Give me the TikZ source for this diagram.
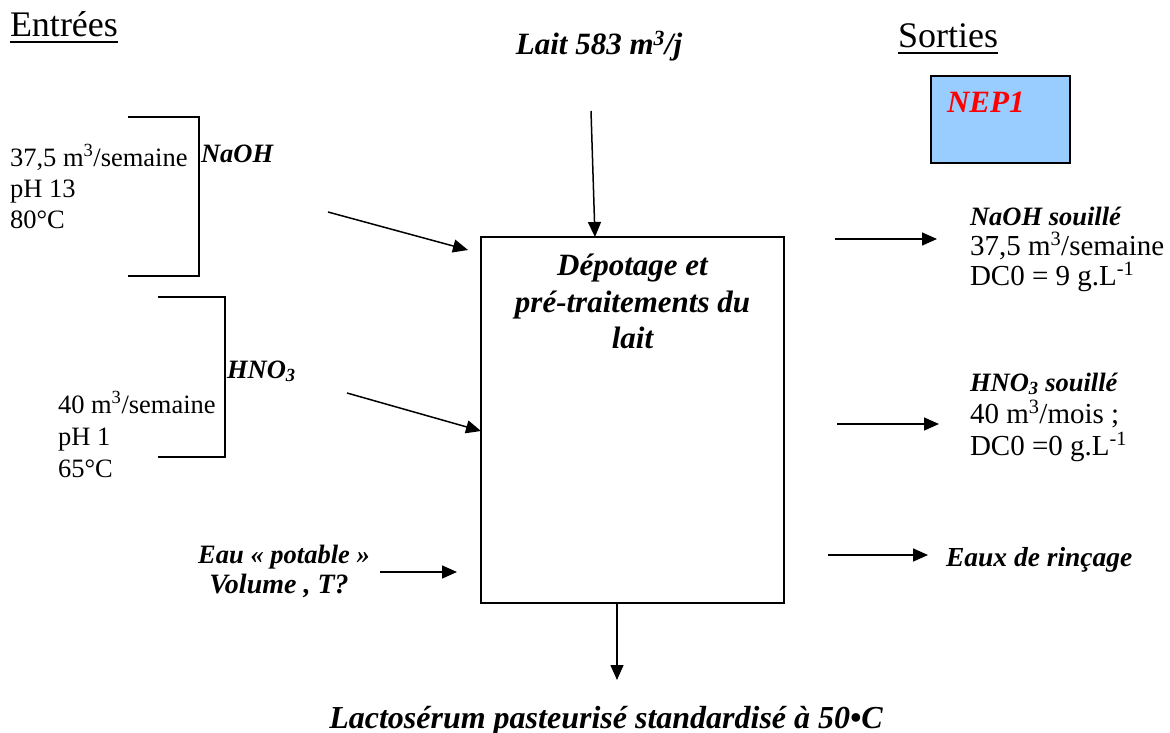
\documentclass[tikz,border=0pt]{standalone}
\usepackage{fontspec}
\setmainfont{Liberation Serif}
\usetikzlibrary{arrows.meta}
\definecolor{nepblue}{HTML}{99CCFF}
\definecolor{nepred}{HTML}{FF0000}
\begin{document}
\begin{tikzpicture}[x=1pt,y=-1pt,
  every node/.style={inner sep=0pt, outer sep=0pt},
  txt/.style={anchor=base west, font=\fontsize{26.5}{31}\selectfont},
  rtxt/.style={anchor=base west, font=\fontsize{29}{31}\selectfont},
  lbl/.style={anchor=base west, font=\fontsize{26.5}{30}\selectfont\bfseries\itshape},
  big/.style={anchor=base, font=\fontsize{31}{36}\selectfont\bfseries\itshape},
  head/.style={anchor=base west, font=\fontsize{36}{40}\selectfont},
  flow/.style={line width=1.5pt, -{Triangle[length=15pt,width=13pt]}},
  brk/.style={line width=2pt},
  uline/.style={line width=2pt},
]
\useasboundingbox (0,0) rectangle (1170,733);

% headings
\node[head] (entrees) at (10,37) {Entrées};
\draw[uline] ([yshift=-5pt]entrees.base west) -- ([yshift=-5pt]entrees.base east);
\node[head] (sorties) at (898,48) {Sorties};
\draw[uline] ([yshift=-5pt]sorties.base west) -- ([yshift=-5pt]sorties.base east);

% NEP1 box
\node[draw, line width=1.5pt, fill=nepblue, minimum width=139pt, minimum height=87pt, anchor=north west] (nep) at (931,76) {};
\node[anchor=base west, font=\fontsize{31}{36}\selectfont\bfseries\itshape, text=nepred] (neptxt) at (947,113) {NEP1};

% main box
\node[draw, line width=1.5pt, minimum width=303pt, minimum height=366pt, anchor=north west] (box) at (481,237) {};
\node[big] (box1) at (632.5,275) {Dépotage et};
\node[big] (box2) at (632.5,312) {pré-traitements du};
\node[big] (box3) at (632.5,348) {lait};

% Lait input
\node[big, font=\fontsize{31}{36}\selectfont\bfseries\itshape] (lait) at (599,55) {Lait 583 m\textsuperscript{3}/j};
\coordinate (laitS) at (591,111);
\coordinate (laitE) at (595,237);
\draw[flow] (laitS) -- (laitE);

% NaOH input
\draw[brk] (128,117) -- (199,117) -- (199,276) -- (128,276);
\node[txt] (na1) at (10,166) {37,5 m\textsuperscript{3}/semaine};
\node[txt] (na2) at (10,197) {pH 13};
\node[txt] (na3) at (10,228) {80°C};
\node[lbl] (nalbl) at (201,162) {NaOH};
\coordinate (naS) at (328,212);
\coordinate (naE) at (468,250);
\draw[flow] (naS) -- (naE);

% HNO3 input
\draw[brk] (158,297) -- (225,297) -- (225,457) -- (158,457);
\node[txt] (hn1) at (58,413) {40 m\textsuperscript{3}/semaine};
\node[txt] (hn2) at (58,445) {pH 1};
\node[txt] (hn3) at (58,477) {65°C};
\node[lbl] (hnlbl) at (227,378) {HNO\textsubscript{3}};
\coordinate (hnS) at (347,393);
\coordinate (hnE) at (481,431);
\draw[flow] (hnS) -- (hnE);

% Eau input
\node[lbl, anchor=base] (eau1) at (284,563) {Eau « potable »};
\node[lbl, anchor=base, font=\fontsize{28}{32}\selectfont\bfseries\itshape] (eau2) at (279,593) {Volume , T?};
\coordinate (eauS) at (380,572);
\coordinate (eauE) at (457,572);
\draw[flow] (eauS) -- (eauE);

% output bottom
\coordinate (outS) at (617,603);
\coordinate (outE) at (617,680);
\draw[flow] (outS) -- (outE);
\node[big, font=\fontsize{32}{36}\selectfont\bfseries\itshape] (lacto) at (606,728) {Lactosérum pasteurisé standardisé à 50•C};

% outputs right
\coordinate (o1S) at (835,239);
\coordinate (o1E) at (937,239);
\draw[flow] (o1S) -- (o1E);
\node[lbl] (r1) at (970,225) {NaOH souillé};
\node[rtxt] (r2) at (970,255) {37,5 m\textsuperscript{3}/semaine};
\node[rtxt] (r3) at (970,285) {DC0 = 9 g.L\textsuperscript{-1}};

\coordinate (o2S) at (837,424);
\coordinate (o2E) at (939,424);
\draw[flow] (o2S) -- (o2E);
\node[lbl] (s1) at (970,391) {HNO\textsubscript{3} souillé};
\node[rtxt] (s2) at (970,423) {40 m\textsuperscript{3}/mois ;};
\node[rtxt] (s3) at (970,455) {DC0 =0 g.L\textsuperscript{-1}};

\coordinate (o3S) at (828,555);
\coordinate (o3E) at (928,555);
\draw[flow] (o3S) -- (o3E);
\node[lbl, font=\fontsize{27.5}{30}\selectfont\bfseries\itshape] (eaux) at (946,566) {Eaux de rinçage};
\end{tikzpicture}
\end{document}
